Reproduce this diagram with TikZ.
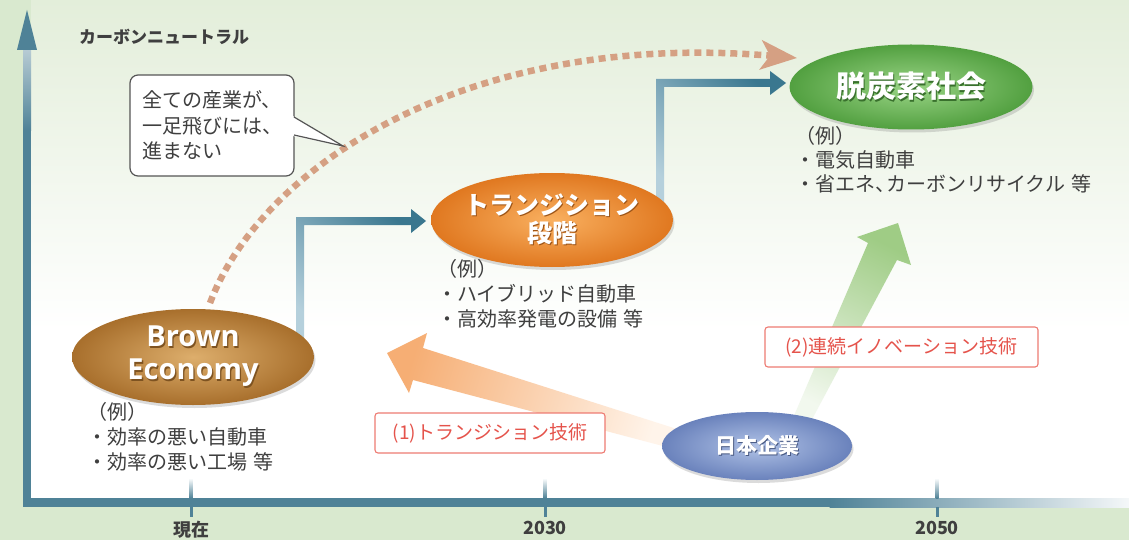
\documentclass[tikz,border=0pt]{standalone}
\usepackage{fontspec}
\setmainfont{Noto Sans CJK JP}
\newfontfamily\latinfont{Open Sans}
\usetikzlibrary{arrows.meta,shapes.geometric,shadows,calc}
\definecolor{bgG}{HTML}{D9E9CF}
\definecolor{bgTop}{HTML}{E3EEDA}
\definecolor{axisC}{HTML}{4F8297}
\definecolor{axisL}{HTML}{B9CDD5}
\definecolor{txtC}{HTML}{3F3F3F}
\definecolor{tagB}{HTML}{EE7B73}
\definecolor{tagT}{HTML}{E5534B}
\definecolor{blueL}{HTML}{B5D0DC}
\definecolor{blueD}{HTML}{3A778F}
\definecolor{orangeA}{HTML}{F6AE74}
\definecolor{orangeW}{HTML}{FFF4EA}
\definecolor{greenA}{HTML}{9FCC85}
\definecolor{greenW}{HTML}{F2F8EE}
\definecolor{dotC}{HTML}{D5A083}
\definecolor{brownIn}{HTML}{DDAE6C}
\definecolor{brownOut}{HTML}{A86F2C}
\definecolor{transIn}{HTML}{F9B060}
\definecolor{transOut}{HTML}{E07820}
\definecolor{decIn}{HTML}{9AD486}
\definecolor{decOut}{HTML}{52A040}
\definecolor{japIn}{HTML}{B0C2E6}
\definecolor{japOut}{HTML}{6A82BC}
\definecolor{callB}{HTML}{555555}
\newcommand\shtxt[2]{\leavevmode\rlap{\kern1.3pt\raisebox{-1.6pt}{\color{#1}#2}}#2}
\begin{document}
\begin{tikzpicture}[x=1pt,y=-1pt,
  ex/.style={font=\fontsize{20}{25}\selectfont, text=txtC, align=left, inner sep=0pt, anchor=north west},
  oval/.style={ellipse, inner sep=0pt, text=white, align=center,
    drop shadow={opacity=0.28, shadow xshift=1.5pt, shadow yshift=-3pt}},
  tag/.style={draw=tagB, line width=1.1pt, fill=white, rounded corners=3pt, text=tagT,
    font=\fontsize{19}{22}\selectfont, minimum height=40pt, inner sep=0pt},
  ticklbl/.style={font=\fontsize{18}{20}\selectfont\bfseries, text=txtC, anchor=north, inner sep=0pt}
]
\useasboundingbox (0,0) rectangle (1129,540);
% background
\fill[bgG] (0,0) rectangle (1129,540);
\shade[top color=bgTop, bottom color=white] (31,0) rectangle (1129,330);
\fill[white] (31,329.5) rectangle (1129,498);
% axes
\fill[axisC] (23,130) rectangle (31,507);
\shade[top color=axisL, bottom color=axisC] (23,48) rectangle (31,130.5);
\fill[axisC] (27,10) -- (37,50) -- (17,50) -- cycle;
\fill[axisC] (23,498) rectangle (830,507);
\shade[left color=axisC, right color=white!94!axisC] (829.5,498) rectangle (1129,507);
\foreach \tx in {191,545,937}{
  \shade[top color=white, bottom color=axisC] (\tx-1.5,478) rectangle (\tx+1.5,498);
  \fill[axisC] (\tx-1.5,507) rectangle (\tx+1.5,517);
}
\node[ticklbl] (t0) at (191,521) {現在};
\node[ticklbl] (t1) at (545,521) {2030};
\node[ticklbl] (t2) at (937,521) {2050};
\node[font=\fontsize{17}{20}\selectfont\bfseries, text=txtC, anchor=west, inner sep=0pt] (cn) at (79,37) {カーボンニュートラル};
% dotted curve
\coordinate (dS) at (210,303);
\coordinate (dE) at (797,58);
\draw[dotC, line width=6.5pt, dash pattern=on 7pt off 5pt,
  -{Stealth[length=36pt,width=29pt,inset=9pt]}]
  (dS) .. controls (262,165) and (470,30) .. (dE);
% blue step arrows
\shade[top color=blueD, bottom color=blueL, shading angle=-45]
  (296,345) -- (296,217) -- (411,217) -- (411,209) -- (426,221) -- (411,233) -- (411,225) -- (304,225) -- (304,345) -- cycle;
\shade[top color=blueD, bottom color=blueL, shading angle=-45]
  (656,212) -- (656,79) -- (770,79) -- (770,71) -- (786,83) -- (770,95) -- (770,87) -- (664,87) -- (664,212) -- cycle;
% wide arrows
\shade[top color=orangeA, bottom color=orangeW, shading angle=73]
  (387,353) -- (427,333) -- (423,348) -- (680,430) -- (678,450) -- (413,380) -- (409,393) -- cycle;
\shade[top color=greenA, bottom color=greenW, shading angle=-27]
  (898,223) -- (911,265) -- (897,260) -- (809,425) -- (790,425) -- (868,243) -- (857,237) -- cycle;
% callout
\node[draw=callB, line width=1.2pt, fill=white, rounded corners=8pt, minimum width=164pt, minimum height=101pt,
  inner xsep=12pt, inner ysep=0pt, align=left, text=txtC, font=\fontsize{20}{25.5}\selectfont] (call) at (212,125.5)
  {全ての産業が、\\一足飛びには、\\進まない};
\coordinate (ptip) at (343,146);
\fill[white] (292.8,116) -- (ptip) -- (292.8,136) -- cycle;
\draw[callB, line width=1.2pt, line join=miter] (294,117) -- (ptip) -- (294,135);
% ellipses
\node[oval, minimum width=242pt, minimum height=96pt, inner color=brownIn, outer color=brownOut,
  font=\latinfont\fontsize{29}{33}\selectfont\bfseries] (brown) at (193,357)
  {\shtxt{brownOut!75!black}{Brown}\\\shtxt{brownOut!75!black}{Economy}};
\node[oval, minimum width=242pt, minimum height=94pt, inner xsep=-20pt, inner color=transIn, outer color=transOut,
  font=\fontsize{25}{28}\selectfont\bfseries] (trans) at (552,220)
  {\raisebox{-3pt}{\shtxt{transOut!70!black}{トランジション}}\\\raisebox{-3pt}{\shtxt{transOut!70!black}{段階}}};
\node[oval, minimum width=243pt, minimum height=85pt, inner color=decIn, outer color=decOut,
  font=\fontsize{30}{33}\selectfont\bfseries] (dec) at (911,87) {\shtxt{decOut!70!black}{脱炭素社会}};
\node[oval, minimum width=190pt, minimum height=68pt, inner color=japIn, outer color=japOut,
  font=\fontsize{21}{24}\selectfont\bfseries] (jap) at (757,446) {\shtxt{japOut!70!black}{日本企業}};
% tags
\node[tag, minimum width=230pt] (tag1) at (490,433) {(1)トランジション技術};
\node[tag, minimum width=273pt] (tag2) at (901.5,347) {(2)連続イノベーション技術};
% examples
\node[ex] (exB) at (87,402) {（例）\\・効率の悪い自動車\\・効率の悪い工場\hspace{0.3em}等};
\node[ex] (exT) at (437,259) {（例）\\・ハイブリッド自動車\\・高効率発電の設備\hspace{0.3em}等};
\node[ex, font=\fontsize{20}{24}\selectfont] (exD) at (795,126) {（例）\\・電気自動車\\・省エネ、\kern-9ptカーボンリサイクル\hspace{0.3em}等};
\end{tikzpicture}
\end{document}
